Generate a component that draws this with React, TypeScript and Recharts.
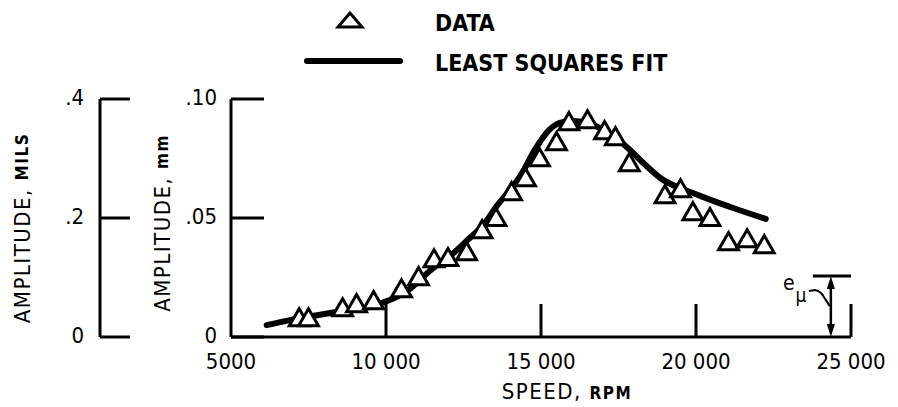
import {
  ComposedChart, Legend, Line, ReferenceLine, Scatter, XAxis, YAxis, ZAxis,
} from "recharts";

const FONT = '"DejaVu Sans Condensed", "Liberation Sans Narrow", sans-serif';
const INK = "#000";

// axis ticks
const speedTicks = [5000, 10000, 15000, 20000, 25000];
const speedLabels = ["5000", "10 000", "15 000", "20 000", "25 000"];
const mmTicks = [0, 0.05, 0.1];
const mmLabels = ["0", ".05", ".10"];
const milsTicks = [0, 0.2, 0.4];
const milsLabels = ["0", ".2", ".4"];

// measured points (triangles), rpm / mm
const dataSpeed = [7200, 7500, 8600, 9050, 9600, 10500, 11050, 11550, 12000, 12600, 13100, 13550, 14050, 14500,
  14950, 15500, 15900, 16500, 17050, 17400, 17850, 19000, 19500, 19900, 20450, 21050, 21650, 22200];
const dataAmp = [0.0071, 0.0071, 0.0113, 0.0130, 0.0143, 0.0193, 0.0244, 0.0319, 0.0324, 0.0349, 0.0441, 0.0492, 0.0601, 0.0660,
  0.0744, 0.0811, 0.0895, 0.0903, 0.0857, 0.0832, 0.0723, 0.0588, 0.0613, 0.0517, 0.0492, 0.0391, 0.0403, 0.0378];

// least squares fit curve
const fitSpeed = [6150, 6900, 8200, 9400, 9900, 10400, 10800, 11300, 11750, 12200, 12700, 13150, 13600, 14000, 14350,
  14800, 15250, 15600, 16000, 16500, 16900, 17400, 17870, 18300, 18850, 19900, 20600, 21200, 22250];
const fitAmp = [0.0050, 0.0071, 0.0101, 0.0124, 0.0145, 0.0172, 0.0205, 0.0265, 0.0312, 0.0355, 0.0416, 0.0472, 0.0555, 0.0618, 0.0680,
  0.0786, 0.0868, 0.0900, 0.0908, 0.0900, 0.0878, 0.0838, 0.0786, 0.0731, 0.0668, 0.0605, 0.0570, 0.0542, 0.0496];

// e_mu marker
const emuSpeed = 24350;
const emuBarFrom = 23770;
const emuBarTo = 25000;
const emuAmp = 0.0256;

const points = dataSpeed.map((speed, i) => ({ speed, amp: dataAmp[i] }));
const fit = fitSpeed.map((speed, i) => ({ speed, amp: fitAmp[i] }));

function SpeedTick({ x, y, payload }: any) {
  const i = speedTicks.indexOf(payload.value);
  return (
    <g>
      {i > 0 && <line x1={x} x2={x} y1={y} y2={y - 33} stroke={INK} strokeWidth={3} />}
      <text x={x} y={y + 32} textAnchor="middle" fontFamily={FONT} fontSize={22} fill={INK}>
        {speedLabels[i]}
      </text>
    </g>
  );
}

function makeYTick(ticks: number[], labels: string[], len: number, gap: number) {
  return ({ x, y, payload }: any) => {
    const i = ticks.indexOf(payload.value);
    return (
      <g>
        <line x1={x} x2={x + len} y1={y} y2={y} stroke={INK} strokeWidth={3} />
        <text x={x - gap} y={y + 6} textAnchor="end" fontFamily={FONT} fontSize={22} fill={INK}>
          {labels[i]}
        </text>
      </g>
    );
  };
}

function verticalTitle(main: string, small: string, dx: number, dy: number) {
  return ({ viewBox }: any) => {
    const cx = viewBox.x + dx;
    const cy = viewBox.y + viewBox.height / 2 + dy;
    return (
      <text x={cx} y={cy} transform={`rotate(-90 ${cx} ${cy})`} textAnchor="middle" dominantBaseline="central"
        fontFamily={FONT} fontSize={22} letterSpacing={1.5} fill={INK}>
        {main}<tspan fontSize={17} fontWeight="bold">{small}</tspan>
      </text>
    );
  };
}

function SpeedTitle({ viewBox }: any) {
  const cx = viewBox.x + viewBox.width / 2 + 26;
  return (
    <text x={cx} y={viewBox.y + 62} textAnchor="middle" fontFamily={FONT} fontSize={22} letterSpacing={1.5} fill={INK}>
      SPEED, <tspan fontSize={17} fontWeight="bold">RPM</tspan>
    </text>
  );
}

function EmuArrow({ x1, y1, y2 }: any) {
  const top = Math.min(y1, y2);
  const bot = Math.max(y1, y2);
  return (
    <g>
      <line x1={x1} x2={x1} y1={top + 6} y2={bot - 6} stroke={INK} strokeWidth={2.5} />
      <path d={`M${x1} ${top} L${x1 - 4} ${top + 13} L${x1 + 4} ${top + 13} Z`} fill={INK} />
      <path d={`M${x1} ${bot} L${x1 - 4} ${bot - 13} L${x1 + 4} ${bot - 13} Z`} fill={INK} />
      <text x={x1 - 42} y={top + 14} textAnchor="middle" fontFamily={FONT} fontSize={21} fill={INK}>e</text>
      <text x={x1 - 30} y={top + 26} textAnchor="middle" fontFamily={FONT} fontSize={19} fill={INK}>μ</text>
      <path d={`M${x1 - 22} ${top + 15} L${x1 - 16} ${top + 14} Q${x1 - 10} ${top + 15} ${x1 - 7} ${top + 21} L${x1 - 1} ${top + 30}`}
        fill="none" stroke={INK} strokeWidth={2} />
    </g>
  );
}

function Key({ payload }: any) {
  const items = payload ?? [];
  return (
    <svg width={898} height={90} style={{ display: "block" }}>
      {items.map((entry: any) => {
        const isData = entry.type === "triangle";
        const base = isData ? 31 : 71;
        return (
          <g key={entry.value}>
            {isData
              ? <path d="M350 13 L338 27 L362 27 Z" fill="#fff" stroke={INK} strokeWidth={3} strokeLinejoin="miter" />
              : <line x1={307} x2={400} y1={61} y2={61} stroke={INK} strokeWidth={6} strokeLinecap="round" />}
            <text x={435} y={base} fontFamily={FONT} fontSize={23} fontWeight="bold" fill={INK}>{entry.value}</text>
          </g>
        );
      })}
    </svg>
  );
}

export default function App() {
  return (
    <div style={{ position: "absolute", left: 0, top: 0, background: "#fff" }}>
      <ComposedChart width={898} height={407} margin={{ top: 99, right: 47, bottom: 0, left: 0 }}>
        <XAxis dataKey="speed" type="number" domain={[5000, 25000]} ticks={speedTicks} interval={0}
          height={70} tickSize={0} tickMargin={0} tickLine={false}
          axisLine={{ stroke: INK, strokeWidth: 3 }} tick={SpeedTick} label={{ content: SpeedTitle }} />
        <YAxis yAxisId="inner" dataKey="amp" type="number" domain={[0, 0.1]} ticks={mmTicks} interval={0}
          width={131} tickSize={0} tickMargin={0} tickLine={false} allowDataOverflow
          axisLine={{ stroke: INK, strokeWidth: 3 }} tick={makeYTick(mmTicks, mmLabels, 33, 14)}
          label={{ content: verticalTitle("AMPLITUDE, ", "mm", 62, 5) }} />
        <YAxis yAxisId="outer" type="number" domain={[0, 0.4]} ticks={milsTicks} interval={0}
          width={100} tickSize={0} tickMargin={0} tickLine={false} allowDataOverflow
          axisLine={{ stroke: INK, strokeWidth: 3 }} tick={makeYTick(milsTicks, milsLabels, 30, 16)}
          label={{ content: verticalTitle("AMPLITUDE, ", "MILS", 22, 10) }} />
        <ZAxis range={[170, 170]} />
        <Legend layout="vertical" verticalAlign="middle" align="center" content={Key}
          wrapperStyle={{ position: "absolute", left: 0, top: 0, width: 898, height: 90 }} />
        <Line yAxisId="inner" data={fit} dataKey="amp" name="LEAST SQUARES FIT" type="monotone" stroke={INK}
          strokeWidth={6} strokeLinecap="round" dot={false} activeDot={false} legendType="line" isAnimationActive={false} />
        <Scatter yAxisId="inner" data={points} dataKey="amp" name="DATA" shape="triangle" fill="#fff" stroke={INK}
          strokeWidth={3} legendType="triangle" isAnimationActive={false} />
        <ReferenceLine yAxisId="inner" segment={[{ x: emuBarFrom, y: emuAmp }, { x: emuBarTo, y: emuAmp }]}
          stroke={INK} strokeWidth={3} />
        <ReferenceLine yAxisId="inner" segment={[{ x: emuSpeed, y: emuAmp }, { x: emuSpeed, y: 0 }]}
          stroke={INK} shape={EmuArrow} />
      </ComposedChart>
    </div>
  );
}
